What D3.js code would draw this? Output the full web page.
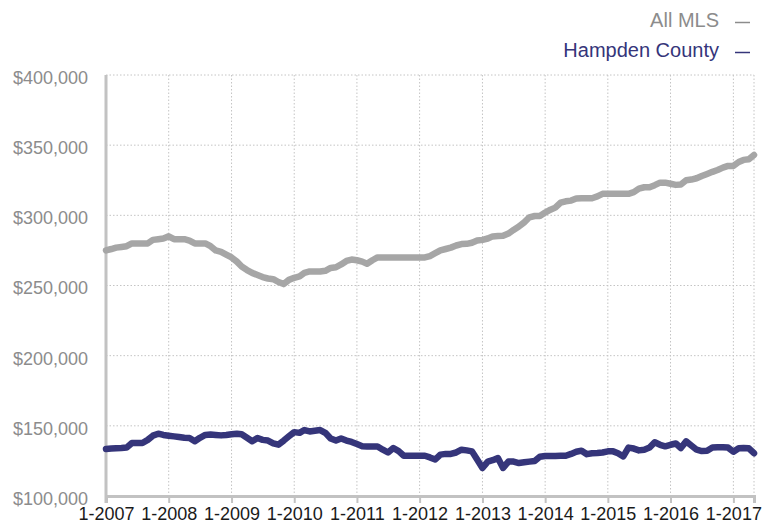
<!DOCTYPE html>
<html>
<head>
<meta charset="utf-8">
<script src="https://cdn.jsdelivr.net/npm/d3@7"></script>
<style>
  body { margin: 0; background: #fff; }
  svg { font-family: "Liberation Sans", Arial, Helvetica, sans-serif; }
</style>
</head>
<body>
<svg id="chart" width="778" height="529"></svg>
<script>
// monthly values, 1-2007 .. 5-2017 (thousands of dollars)
const startYear = 2007;
const allMls = [
  275, 276, 277, 277.5, 278, 280, 280, 280, 280, 282.5, 283, 283.5,
  285, 283, 283, 283, 282, 280, 280, 280, 278, 275, 274, 272,
  270, 267, 263.5, 261, 259, 257.5, 256, 255, 254.5, 252.5, 251, 254,
  255.5, 256.5, 259, 260, 260, 260, 260.5, 262.5, 263, 265, 267.5, 268.5,
  268, 267, 265.5, 268, 270, 270, 270, 270, 270, 270, 270, 270,
  270, 270, 271, 273, 275, 276, 277, 278.5, 279.5, 279.7, 280.5, 282,
  282.5, 283.5, 285, 285.2, 285.4, 287, 289.6, 292, 295, 298.6, 299.5, 299.6,
  302, 304, 305.5, 309, 310, 310.5, 312, 312.2, 312.2, 312.2, 313.5, 315.3,
  315.3, 315.3, 315.3, 315.3, 315.3, 316.5, 319, 320, 320, 321.5, 323.3, 323.3,
  322.5, 321.7, 322, 325, 325.5, 326.4, 328, 329.5, 331, 332.3, 334, 335.2,
  335.2, 338, 339.5, 340, 343
];
const hampden = [
  133.5, 133.8, 134, 134.2, 134.5, 137.8, 137.8, 137.8, 140, 143, 144.4, 143.5,
  143, 142.5, 142, 141.5, 141.3, 139, 141.5, 143.5, 143.8, 143.5, 143.2, 143.5,
  144, 144.4, 144, 141.5, 139, 141.3, 140, 139.5, 137.5, 136.6, 139.5, 142.5,
  145.5, 145, 147, 146, 146.5, 147, 145, 141, 139.5, 141, 139.5, 138.5,
  137, 135.5, 135.3, 135.3, 135.3, 133, 131, 134.2, 132, 128.7, 128.7, 128.7,
  128.7, 128.7, 127.5, 126, 129.5, 130, 130, 131, 133, 132.5, 131.8, 126,
  120, 124.5, 125.5, 127, 120, 124.5, 124.5, 123.5, 124, 124.5, 125, 128,
  128.5, 128.5, 128.5, 128.7, 128.7, 130, 131.5, 132.3, 129.8, 130.5, 130.6, 131,
  131.8, 131.8, 130.5, 128.2, 134.5, 133.8, 132.5, 133, 134.5, 138.3, 136.5, 135.4,
  136.5, 137.4, 134.2, 138.9, 136, 133, 132, 132.2, 134.5, 134.7, 134.7, 134.5,
  131.5, 134, 134.2, 134, 130.5
];
const yTicks = [100000, 150000, 200000, 250000, 300000, 350000, 400000];
const xTickYears = [2007, 2008, 2009, 2010, 2011, 2012, 2013, 2014, 2015, 2016, 2017];
const seriesNames = ["All MLS", "Hampden County"];
const seriesColors = ["#a6a6a6", "#35357a"];

const svg = d3.select("#chart");
const margin = { top: 75, right: 24, bottom: 33, left: 106 };
const width = 778 - margin.left - margin.right;
const height = 529 - margin.top - margin.bottom;

const dates = allMls.map((d, i) => new Date(startYear, i, 1));
const x = d3.scaleTime()
  .domain([dates[0], dates[dates.length - 1]])
  .range([0, width]);
const y = d3.scaleLinear()
  .domain([100000, 400000])
  .range([height, 0]);

const g = svg.append("g")
  .attr("transform", `translate(${margin.left},${margin.top})`);

// grid
const grid = g.append("g");
yTicks.slice(1).forEach((v) => {
  grid.append("line")
    .attr("x1", 0).attr("x2", width)
    .attr("y1", y(v)).attr("y2", y(v))
    .attr("stroke", "#c4c4c4").attr("stroke-width", 1)
    .attr("stroke-dasharray", "1.5,2");
});
const xGrid = xTickYears.slice(1).map((yr) => x(new Date(yr, 0, 1))).concat([width]);
xGrid.forEach((px) => {
  grid.append("line")
    .attr("x1", px).attr("x2", px)
    .attr("y1", 0).attr("y2", height)
    .attr("stroke", "#c4c4c4").attr("stroke-width", 1)
    .attr("stroke-dasharray", "1.5,2");
});

// axes
const xAxis = g.append("g")
  .attr("transform", `translate(0,${height})`)
  .call(d3.axisBottom(x)
    .tickValues(xTickYears.map((yr) => new Date(yr, 0, 1)))
    .tickFormat((d) => "1-" + d.getFullYear())
    .tickSize(7)
    .tickPadding(4));
xAxis.select(".domain").attr("stroke", "#c2c2c2").attr("stroke-width", 3);
xAxis.selectAll(".tick line").attr("stroke", "#c2c2c2").attr("stroke-width", 2);
xAxis.selectAll("text")
  .attr("fill", "#1a1a1a")
  .attr("font-size", "18px");

const yAxis = g.append("g")
  .call(d3.axisLeft(y)
    .tickValues(yTicks)
    .tickFormat((d) => "$" + d3.format(",")(d))
    .tickSize(0)
    .tickPadding(18));
yAxis.select(".domain").remove();
yAxis.selectAll("text")
  .attr("fill", "#8c8c8c")
  .attr("font-size", "18px")
  .attr("dy", "0.47em");
g.append("line")
  .attr("x1", 0).attr("x2", 0)
  .attr("y1", 0).attr("y2", height + 7)
  .attr("stroke", "#c2c2c2").attr("stroke-width", 3);

// lines
const line = d3.line()
  .x((d, i) => x(dates[i]))
  .y((d) => y(d * 1000));

[allMls, hampden].forEach((s, k) => {
  g.append("path")
    .datum(s)
    .attr("d", line)
    .attr("fill", "none")
    .attr("stroke", seriesColors[k])
    .attr("stroke-width", 6.5)
    .attr("stroke-linejoin", "round")
    .attr("stroke-linecap", "round");
});

// legend
const legend = svg.append("g");
seriesNames.forEach((name, k) => {
  const ly = 27 + k * 30;
  legend.append("text")
    .attr("x", 719).attr("y", ly)
    .attr("text-anchor", "end")
    .attr("font-size", "20px")
    .attr("fill", k === 0 ? "#8c8c8c" : seriesColors[k])
    .text(name);
  legend.append("line")
    .attr("x1", 735).attr("x2", 750)
    .attr("y1", ly - 4.5).attr("y2", ly - 4.5)
    .attr("stroke", k === 0 ? "#8c8c8c" : seriesColors[k])
    .attr("stroke-width", 1.5);
});
</script>
</body>
</html>
